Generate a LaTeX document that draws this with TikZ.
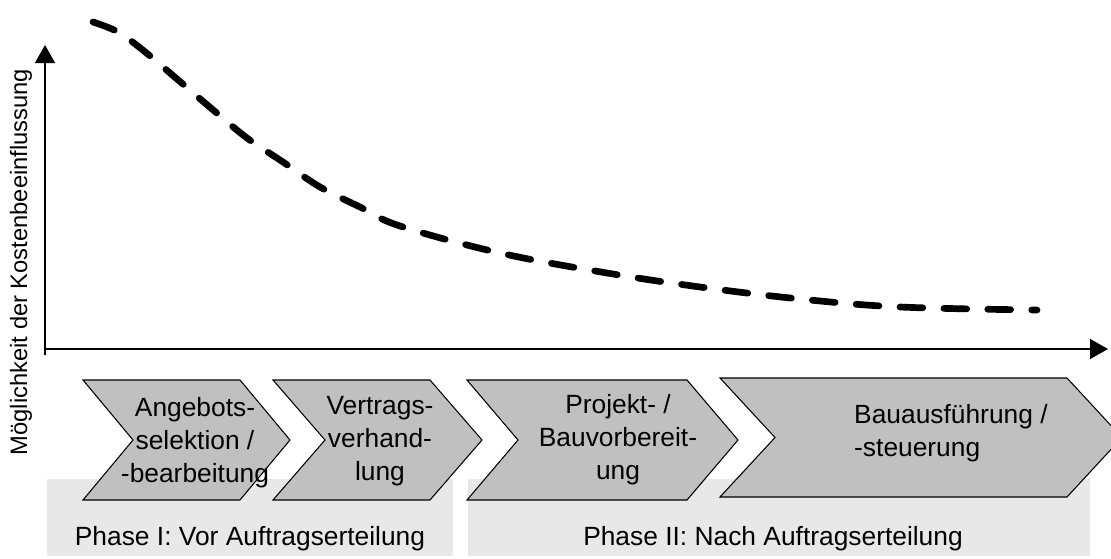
\documentclass[tikz,border=0pt]{standalone}
\usepackage{fontspec}
\setmainfont{Liberation Sans}
\usetikzlibrary{arrows.meta}
\definecolor{stepgray}{RGB}{192,192,192}
\definecolor{phasegray}{RGB}{232,232,232}
% process step: \chevron(left,right)(bottom,top)(depth)
\def\chevron(#1,#2)(#3,#4)(#5){\draw[fill=stepgray, line width=0.6pt] (#1,#4) -- (#2,#4) -- (#2+#5,{(#3+#4)/2}) -- (#2,#3) -- (#1,#3) -- (#1+#5,{(#3+#4)/2}) -- cycle;}

\begin{document}
\begin{tikzpicture}[font=\fontsize{15}{18.7}\selectfont]
	\clip (0,0) rectangle (22.22,11.16);
	
	% phases
	\fill[phasegray] (0.94,0.04) rectangle (9.06,1.58);
	\fill[phasegray] (9.36,0.04) rectangle (21.80,1.58);
	\node[anchor=base] (phase1) at (5.0,0.26) {Phase I: Vor Auftragserteilung};
	\node[anchor=base] (phase2) at (15.46,0.26) {Phase II: Nach Auftragserteilung};
	
	% steps
	\chevron(1.66,4.80)(1.16,3.56)(1.0)
	\chevron(5.46,8.60)(1.16,3.56)(1.04)
	\chevron(9.34,13.74)(1.16,3.56)(1.02)
	\chevron(14.40,21.34)(1.22,3.60)(1.1)
	\node[align=center] (angebot) at (3.90,2.30) {Angebots-\\selektion /\\-bearbeitung};
	\node[align=center] (vertrag) at (7.60,2.34) {Vertrags-\\verhand-\\lung};
	\node[align=center] (projekt) at (12.36,2.36) {Projekt- /\\Bauvorbereit-\\ung};
	\node[align=left, anchor=west] (bau) at (16.96,2.49) {Bauausführung /\\-steuerung};
	
	% axes
	\coordinate (ybot) at (0.9,4.06);
	\coordinate (ytop) at (0.9,10.26);
	\coordinate (xleft) at (0.9,4.18);
	\coordinate (xright) at (22.16,4.18);
	\draw[line width=0.8pt, -{Triangle[length=0.36cm,width=0.4cm]}] (ybot) -- (ytop);
	\draw[line width=0.8pt, -{Triangle[length=0.36cm,width=0.4cm]}] (xleft) -- (xright);
	\node[rotate=90, font=\fontsize{13.5}{16}\selectfont] (ylabel) at (0.42,5.92) {Möglichkeit der Kostenbeeinflussung};
	
	% influence curve
	\draw[line width=3.8pt, line cap=round, dash pattern=on 13pt off 12pt] plot[smooth, tension=0.6] coordinates {
		(1.86,10.72) (2.36,10.52) (2.88,10.14) (3.54,9.58) (4.24,8.98) (4.94,8.40)
		(5.66,7.92) (6.40,7.42) (7.20,7.02) (8.00,6.64) (10.00,6.10) (12.14,5.70)
		(14.00,5.42) (16.00,5.18) (18.00,5.02) (20.74,4.96)};
\end{tikzpicture}
\end{document}
